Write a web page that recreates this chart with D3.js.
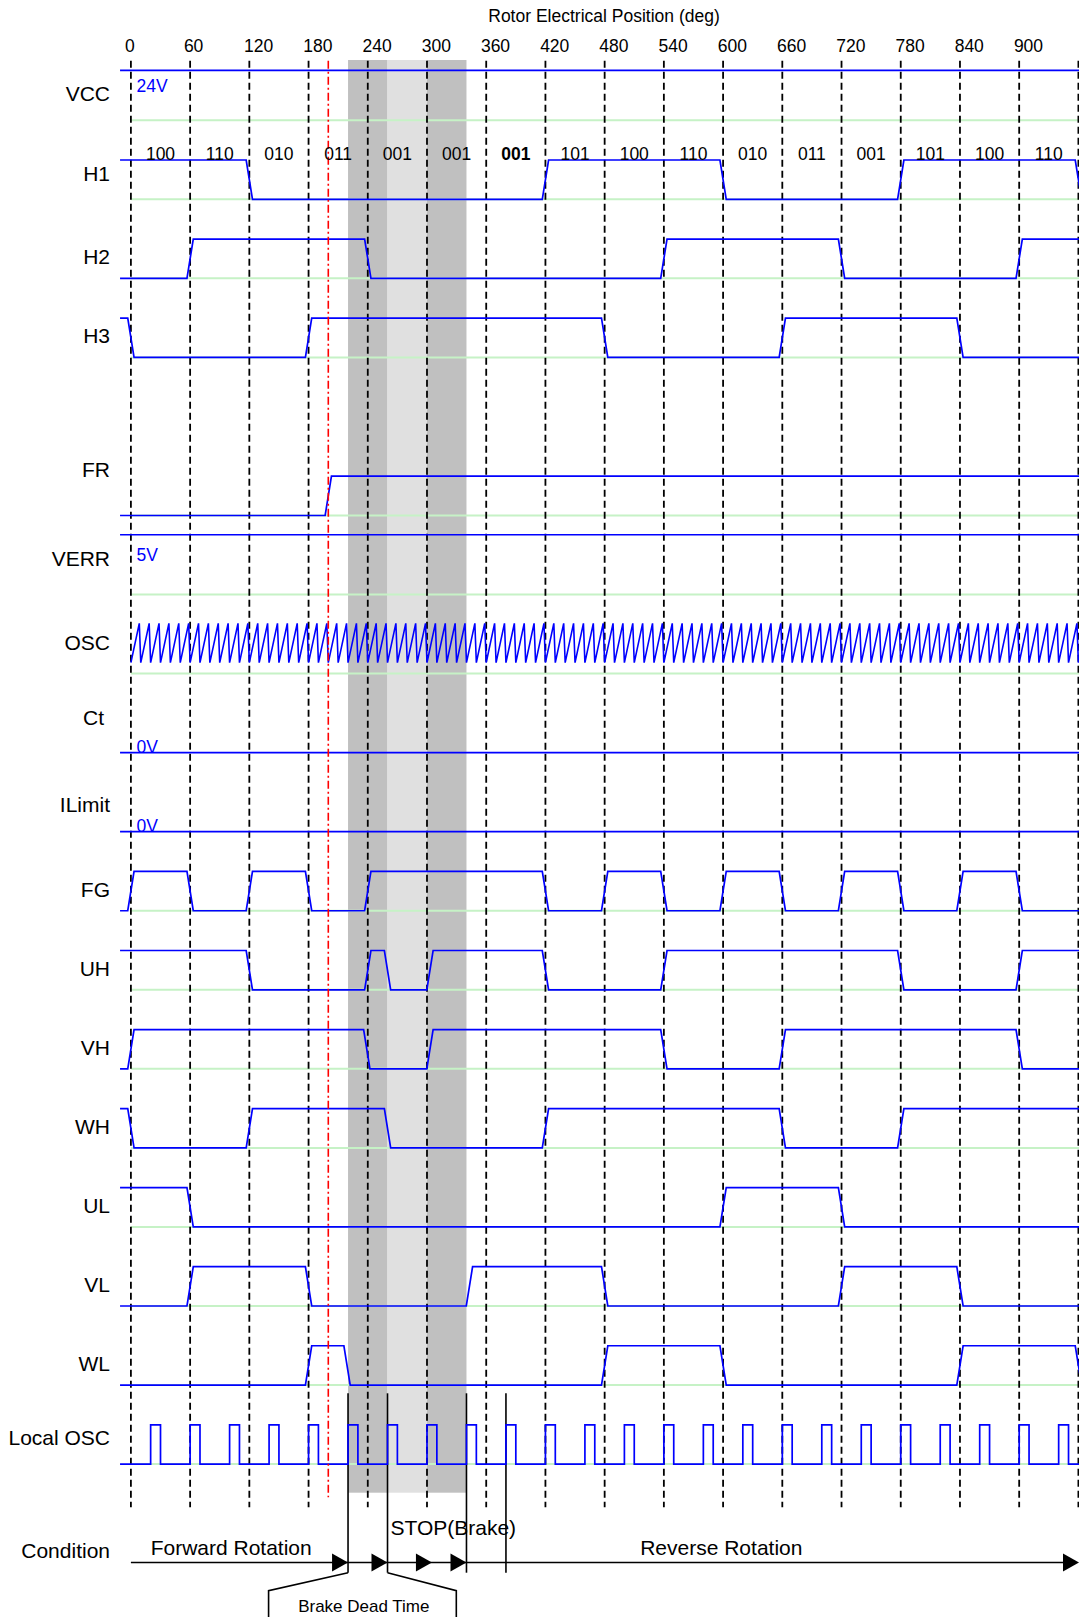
<!DOCTYPE html>
<html>
<head>
<meta charset="utf-8">
<script src="https://cdn.jsdelivr.net/npm/d3@7.9.0/dist/d3.min.js"></script>
<style>
  body { margin: 0; background: #fff; }
  svg { display: block; font-family: "Liberation Sans", Arial, sans-serif; }
</style>
</head>
<body>
<svg id="chart" width="1079" height="1617"></svg>
<script>
// rotor position grid (deg)
const gridDegs = [0, 60, 120, 180, 240, 300, 360, 420, 480, 540, 600, 660, 720, 780, 840, 900, 960];
const tickLabels = ["0", "60", "120", "180", "240", "300", "360", "420", "480", "540", "600", "660", "720", "780", "840", "900"];
const hallCodes = ["100", "110", "010", "011", "001", "001", "001", "101", "100", "110", "010", "011", "001", "101", "100", "110"];
const boldCodeIndex = 6;

// shaded brake intervals
const darkBands = [[220, 260], [300, 340]];
const lightBands = [[260, 300]];
const dirChangeDeg = 200;

// start level + transition positions (deg) of each logic signal
const h1Start = 1, h1Edges = [120, 420, 600, 780, 960];
const h2Start = 0, h2Edges = [60, 240, 540, 720, 900];
const h3Start = 1, h3Edges = [0, 180, 480, 660, 840];
const frStart = 0, frEdges = [200];
const fgStart = 0, fgEdges = [0, 60, 120, 180, 240, 420, 480, 540, 600, 660, 720, 780, 840, 900];
const uhStart = 1, uhEdges = [120, 240, 260, 303, 420, 540, 780, 900];
const vhStart = 0, vhEdges = [0, 239, 303, 540, 660, 900];
const whStart = 1, whEdges = [0, 120, 260, 420, 660, 780];
const ulStart = 1, ulEdges = [60, 600, 720];
const vlStart = 0, vlEdges = [60, 180, 343, 480, 720, 840];
const wlStart = 0, wlEdges = [180, 219, 480, 600, 840, 960];

// OSC sawtooth ramp starts (deg)
const oscTeeth = [0, 10, 20, 30, 40, 50, 60, 70, 80, 90, 100, 110, 120, 130, 140, 150, 160, 170, 180, 190,
  200, 210, 220, 230, 240, 250, 260, 270, 280, 290, 300, 310, 320, 330, 340, 350, 360, 370, 380, 390,
  400, 410, 420, 430, 440, 450, 460, 470, 480, 490, 500, 510, 520, 530, 540, 550, 560, 570, 580, 590,
  600, 610, 620, 630, 640, 650, 660, 670, 680, 690, 700, 710, 720, 730, 740, 750, 760, 770, 780, 790,
  800, 810, 820, 830, 840, 850, 860, 870, 880, 890, 900, 910, 920, 930, 940, 950];

// Local OSC pulses [rise, fall] (deg)
const localOscPulses = [[20, 30], [60, 70], [100, 110], [140, 150], [180, 190], [220, 230], [260, 270], [300, 310],
  [340, 350], [380, 390], [420, 430], [460, 470], [500, 510], [540, 550], [580, 590], [620, 630],
  [660, 670], [700, 710], [740, 750], [780, 790], [820, 830], [860, 870], [900, 910], [940, 950]];

const voltLabels = ["24V", "5V", "0V", "0V"];
const conditionLabels = ["Forward Rotation", "STOP(Brake)", "Reverse Rotation"];
const conditionMarks = [220, 260, 305, 340];
const conditionLines = [220, 260, 340, 380];

const svg = d3.select("#chart");
const x = d3.scaleLinear().domain([0, 960]).range([130.9, 1078.4]);
const slot = d3.scaleLinear().domain([0, 1]).range([160, 239.05]);
const swing = 39.3;
const edgeHalf = 3.2;
const leftDeg = -11, rightDeg = 966;
const blue = "#0000ff", green = "#c6f2c6";
// tick labels sit a little right of their grid lines in the original
const tickNudge = (d, i) => i === 0 ? -1 : i === 1 ? 3.5 : 9.3;

const digital = [
  {name: "H1", slot: 0, start: h1Start, edges: h1Edges, labelY: 174},
  {name: "H2", slot: 1, start: h2Start, edges: h2Edges},
  {name: "H3", slot: 2, start: h3Start, edges: h3Edges},
  {name: "FR", slot: 4, start: frStart, edges: frEdges, labelY: 469.3},
  {name: "FG", slot: 9, start: fgStart, edges: fgEdges},
  {name: "UH", slot: 10, start: uhStart, edges: uhEdges},
  {name: "VH", slot: 11, start: vhStart, edges: vhEdges},
  {name: "WH", slot: 12, start: whStart, edges: whEdges},
  {name: "UL", slot: 13, start: ulStart, edges: ulEdges},
  {name: "VL", slot: 14, start: vlStart, edges: vlEdges},
  {name: "WL", slot: 15, start: wlStart, edges: wlEdges}
];

const vccY = slot(-1) - 10.5;
const verrY = slot(5) - 20.5;
const ctY = slot(7) + swing;
const ilimY = slot(8) + swing;
const oscTop = slot(6) - 11;
const oscBot = oscTop + 39.4;
const losc = slot(16);

const otherLabels = [
  {name: "VCC", y: 93.3}, {name: "VERR", y: 559}, {name: "OSC", y: 642.3},
  {name: "Ct", y: 717.3, x: 104}, {name: "ILimit", y: 805}, {name: "Local OSC", y: 1437.5}
];

// shading
svg.selectAll("rect.dark").data(darkBands).join("rect")
  .attr("x", d => x(d[0])).attr("width", d => x(d[1]) - x(d[0]))
  .attr("y", 60).attr("height", 1492.7 - 60).attr("fill", "#c0c0c0");
svg.selectAll("rect.light").data(lightBands).join("rect")
  .attr("x", d => x(d[0])).attr("width", d => x(d[1]) - x(d[0]))
  .attr("y", 60).attr("height", 1492.7 - 60).attr("fill", "#e0e0e0");

// green baselines
let greens = [slot(-1) + swing, slot(5) + swing, slot(6) + swing, losc + swing]
  .concat(digital.map(d => slot(d.slot) + swing));
svg.append("g").selectAll("line").data(greens).join("line")
  .attr("x1", x(0)).attr("x2", x(rightDeg)).attr("y1", d => d).attr("y2", d => d)
  .attr("stroke", green).attr("stroke-width", 2);

// dashed grid
svg.append("g").selectAll("line").data(gridDegs).join("line")
  .attr("x1", d => x(d)).attr("x2", d => x(d)).attr("y1", 60.7).attr("y2", 1507.3)
  .attr("stroke", "#000").attr("stroke-width", 1.8).attr("stroke-dasharray", "7,4");

// condition marker lines
svg.append("g").selectAll("line").data(conditionLines).join("line")
  .attr("x1", d => x(d)).attr("x2", d => x(d)).attr("y1", 1393.3).attr("y2", 1572.7)
  .attr("stroke", "#000").attr("stroke-width", 1.6);

function digitalPoints(start, edges) {
  let pts = [[leftDeg, start]];
  let lv = start;
  edges.forEach(t => {
    pts.push([t - edgeHalf, lv]);
    lv = 1 - lv;
    pts.push([t + edgeHalf, lv]);
  });
  pts.push([rightDeg, lv]);
  return pts;
}

digital.forEach(sig => {
  let lvl = d3.scaleLinear().domain([0, 1]).range([slot(sig.slot) + swing, slot(sig.slot)]);
  let line = d3.line().x(d => x(d[0])).y(d => lvl(d[1]));
  svg.append("path").attr("d", line(digitalPoints(sig.start, sig.edges)))
    .attr("fill", "none").attr("stroke", blue).attr("stroke-width", 1.7);
});

// flat rails
svg.append("g").selectAll("line").data([vccY, verrY, ctY, ilimY]).join("line")
  .attr("x1", x(leftDeg)).attr("x2", x(rightDeg)).attr("y1", d => d).attr("y2", d => d)
  .attr("stroke", blue).attr("stroke-width", 1.7);

// OSC sawtooth
let oscLvl = d3.scaleLinear().domain([0, 1]).range([oscBot, oscTop]);
let sawPts = [];
oscTeeth.forEach(s => { sawPts.push([s, 0], [s + 8.5, 1]); });
sawPts.push([960, 0]);
svg.append("path").attr("d", d3.line().x(d => x(d[0])).y(d => oscLvl(d[1]))(sawPts))
  .attr("fill", "none").attr("stroke", blue).attr("stroke-width", 1.6);

// Local OSC
let loscLvl = d3.scaleLinear().domain([0, 1]).range([losc + swing, losc]);
let loscPts = [[leftDeg, 0]];
localOscPulses.forEach(([a, b]) => { loscPts.push([a, 0], [a, 1], [b, 1], [b, 0]); });
loscPts.push([rightDeg, 0]);
svg.append("path").attr("d", d3.line().x(d => x(d[0])).y(d => loscLvl(d[1]))(loscPts))
  .attr("fill", "none").attr("stroke", blue).attr("stroke-width", 1.7);

// direction change marker
svg.append("line")
  .attr("x1", x(dirChangeDeg)).attr("x2", x(dirChangeDeg)).attr("y1", 60.7).attr("y2", 1497.3)
  .attr("stroke", "#ff0000").attr("stroke-width", 1.6).attr("stroke-dasharray", "8,3,2,3");

// condition arrow
const condY = 1562.5;
svg.append("line").attr("x1", x(0)).attr("x2", 1070).attr("y1", condY).attr("y2", condY)
  .attr("stroke", "#000").attr("stroke-width", 1.6);
let tri = d => `M${d},${condY} L${d - 16},${condY - 9} L${d - 16},${condY + 9} Z`;
svg.append("g").selectAll("path").data(conditionMarks.map(d => x(d))).join("path")
  .attr("d", tri).attr("fill", "#000");
svg.append("path").attr("d", tri(1079)).attr("fill", "#000");

// brake dead time bracket
svg.append("path")
  .attr("d", `M${x(220)},1572.7 L${x(139.5)},1590.7 L${x(139.5)},1620 M${x(260)},1572.7 L${x(329.7)},1590.7 L${x(329.7)},1620`)
  .attr("fill", "none").attr("stroke", "#000").attr("stroke-width", 1.6);

// texts
svg.append("text").attr("x", 604).attr("y", 15.7).attr("dy", "0.35em")
  .attr("text-anchor", "middle").attr("font-size", 17.5).text("Rotor Electrical Position (deg)");

svg.append("g").selectAll("text").data(tickLabels).join("text")
  .attr("x", (d, i) => x(gridDegs[i]) + tickNudge(d, i)).attr("y", 45.7).attr("dy", "0.35em")
  .attr("text-anchor", "middle").attr("font-size", 17.5).text(d => d);

svg.append("g").selectAll("text").data(hallCodes).join("text")
  .attr("x", (d, i) => x((gridDegs[i] + gridDegs[i + 1]) / 2)).attr("y", 154.3).attr("dy", "0.35em")
  .attr("text-anchor", "middle").attr("font-size", 17.5)
  .attr("font-weight", (d, i) => i === boldCodeIndex ? "bold" : null)
  .text(d => d);

svg.append("g").selectAll("text").data(digital).join("text")
  .attr("x", 110).attr("y", d => d.labelY || slot(d.slot) + 18).attr("dy", "0.35em")
  .attr("text-anchor", "end").attr("font-size", 21).text(d => d.name);

svg.append("g").selectAll("text").data(otherLabels).join("text")
  .attr("x", d => d.x || 110).attr("y", d => d.y).attr("dy", "0.35em")
  .attr("text-anchor", "end").attr("font-size", 21).text(d => d.name);

const voltY = [vccY + 15.4, verrY + 19.8, ctY - 5.8, ilimY - 5.8];
svg.append("g").selectAll("text").data(voltLabels).join("text")
  .attr("x", 136.5).attr("y", (d, i) => voltY[i]).attr("dy", "0.35em")
  .attr("font-size", 17.5).attr("fill", blue).text(d => d);

svg.append("text").attr("x", 110).attr("y", 1557.7).attr("text-anchor", "end")
  .attr("font-size", 21).text("Condition");
const condTextPos = [[20, 1555], [263, 1535], [516, 1555]];
svg.append("g").selectAll("text").data(conditionLabels).join("text")
  .attr("x", (d, i) => x(condTextPos[i][0])).attr("y", (d, i) => condTextPos[i][1])
  .attr("font-size", 21).text(d => d);
svg.append("text").attr("x", x(236)).attr("y", 1611.5).attr("text-anchor", "middle")
  .attr("font-size", 17).text("Brake Dead Time");
</script>
</body>
</html>
